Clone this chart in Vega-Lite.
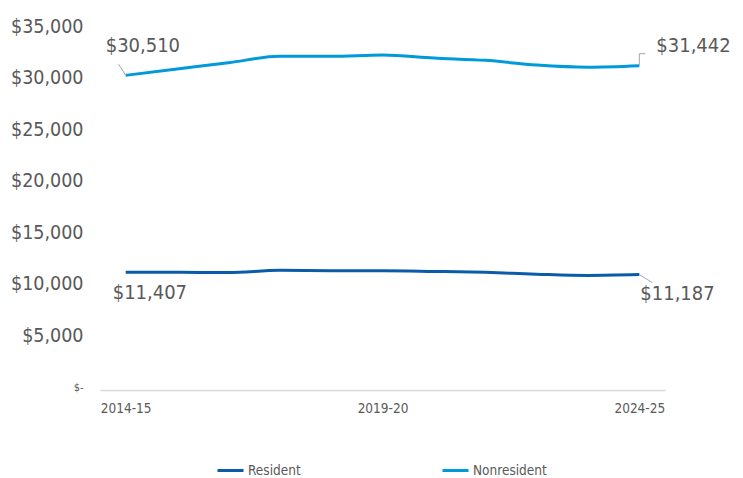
{
  "$schema": "https://vega.github.io/schema/vega-lite/v6.json",
  "width": 565,
  "height": 361,
  "autosize": "none",
  "padding": {"left": 100, "top": 29, "right": 78, "bottom": 88},
  "background": "white",
  "config": {
    "view": {"stroke": null},
    "font": "'DejaVu Sans Condensed', sans-serif",
    "axis": {"labelFont": "'DejaVu Sans Condensed', sans-serif", "labelColor": "#595959"},
    "legend": {"labelFont": "'DejaVu Sans Condensed', sans-serif", "labelColor": "#595959"}
  },
  "datasets": {
    "series": [
      {"year": "2014-15", "series": "Resident", "value": 11407},
      {"year": "2015-16", "series": "Resident", "value": 11420},
      {"year": "2016-17", "series": "Resident", "value": 11380},
      {"year": "2017-18", "series": "Resident", "value": 11600},
      {"year": "2018-19", "series": "Resident", "value": 11570},
      {"year": "2019-20", "series": "Resident", "value": 11570},
      {"year": "2020-21", "series": "Resident", "value": 11500},
      {"year": "2021-22", "series": "Resident", "value": 11407},
      {"year": "2022-23", "series": "Resident", "value": 11230},
      {"year": "2023-24", "series": "Resident", "value": 11110},
      {"year": "2024-25", "series": "Resident", "value": 11187},
      {"year": "2014-15", "series": "Nonresident", "value": 30510},
      {"year": "2015-16", "series": "Nonresident", "value": 31120},
      {"year": "2016-17", "series": "Nonresident", "value": 31730},
      {"year": "2017-18", "series": "Nonresident", "value": 32350},
      {"year": "2018-19", "series": "Nonresident", "value": 32350},
      {"year": "2019-20", "series": "Nonresident", "value": 32480},
      {"year": "2020-21", "series": "Nonresident", "value": 32190},
      {"year": "2021-22", "series": "Nonresident", "value": 31960},
      {"year": "2022-23", "series": "Nonresident", "value": 31510},
      {"year": "2023-24", "series": "Nonresident", "value": 31300},
      {"year": "2024-25", "series": "Nonresident", "value": 31442}
    ],
    "ann": [
      {"year": "2014-15", "value": 30510, "label": "$30,510", "id": "n0"},
      {"year": "2024-25", "value": 31442, "label": "$31,442", "id": "n1"},
      {"year": "2014-15", "value": 11407, "label": "$11,407", "id": "r0"},
      {"year": "2024-25", "value": 11187, "label": "$11,187", "id": "r1"}
    ]
  },
  "encoding": {
    "x": {
      "field": "year", "type": "ordinal",
      "scale": {"type": "point", "padding": 0.5},
      "axis": {
        "title": null, "values": ["2014-15", "2019-20", "2024-25"],
        "labelAngle": 0, "labelFontSize": 13.5, "ticks": false,
        "domainColor": "#d9d9d9", "domainWidth": 1.5, "labelPadding": 11,
        "grid": false
      }
    },
    "y": {
      "field": "value", "type": "quantitative",
      "scale": {"domain": [0, 35000], "nice": false},
      "axis": {
        "title": null, "values": [0, 5000, 10000, 15000, 20000, 25000, 30000, 35000],
        "labelExpr": "datum.value == 0 ? '$-' : '$' + format(datum.value, ',')",
        "labelFontSize": {"condition": {"test": "datum.value == 0", "value": 11}, "value": 19.5},
        "labelOffset": -3,
        "domain": false, "ticks": false, "grid": false, "labelPadding": 17
      }
    }
  },
  "layer": [
    {
      "data": {"name": "series"},
      "mark": {"type": "line", "strokeWidth": 3, "interpolate": "monotone"},
      "encoding": {
        "color": {
          "field": "series", "type": "nominal",
          "scale": {"domain": ["Resident", "Nonresident"], "range": ["#0b5ca8", "#0099d9"]},
          "legend": {
            "title": null, "orient": "none", "direction": "horizontal", "columns": 2,
            "legendX": 116, "legendY": 427, "symbolType": "stroke", "symbolSize": 676,
            "symbolStrokeWidth": 3, "labelFontSize": 13.5, "labelOffset": 3,
            "columnPadding": 135
          }
        }
      }
    },
    {
      "data": {"name": "ann"},
      "transform": [{"filter": "datum.id == 'n0'"}],
      "mark": {"type": "rule", "color": "#a6a6a6", "strokeWidth": 1, "x2Offset": -7, "y2Offset": -11},
      "encoding": {"x2": {"field": "year"}, "y2": {"field": "value"}}
    },
    {
      "data": {"name": "ann"},
      "transform": [{"filter": "datum.id == 'n1'"}],
      "mark": {"type": "rule", "color": "#a6a6a6", "strokeWidth": 1, "y2Offset": -12},
      "encoding": {"x2": {"field": "year"}, "y2": {"field": "value"}}
    },
    {
      "data": {"name": "ann"},
      "transform": [{"filter": "datum.id == 'n1'"}],
      "mark": {"type": "rule", "color": "#a6a6a6", "strokeWidth": 1, "yOffset": -12, "y2Offset": -12, "x2Offset": 6},
      "encoding": {"x2": {"field": "year"}, "y2": {"field": "value"}}
    },
    {
      "data": {"name": "ann"},
      "transform": [{"filter": "datum.id == 'r1'"}],
      "mark": {"type": "rule", "color": "#a6a6a6", "strokeWidth": 1, "x2Offset": 13, "y2Offset": 8},
      "encoding": {"x2": {"field": "year"}, "y2": {"field": "value"}}
    },
    {
      "data": {"name": "ann"},
      "transform": [{"filter": "datum.id == 'n0'"}],
      "mark": {"type": "text", "align": "left", "baseline": "middle", "dx": -20, "dy": -29, "fontSize": 20, "color": "#595959"},
      "encoding": {"text": {"field": "label"}}
    },
    {
      "data": {"name": "ann"},
      "transform": [{"filter": "datum.id == 'n1'"}],
      "mark": {"type": "text", "align": "left", "baseline": "middle", "dx": 17, "dy": -20, "fontSize": 20, "color": "#595959"},
      "encoding": {"text": {"field": "label"}}
    },
    {
      "data": {"name": "ann"},
      "transform": [{"filter": "datum.id == 'r0'"}],
      "mark": {"type": "text", "align": "left", "baseline": "middle", "dx": -13, "dy": 21, "fontSize": 20, "color": "#595959"},
      "encoding": {"text": {"field": "label"}}
    },
    {
      "data": {"name": "ann"},
      "transform": [{"filter": "datum.id == 'r1'"}],
      "mark": {"type": "text", "align": "left", "baseline": "middle", "dx": 1, "dy": 19, "fontSize": 20, "color": "#595959"},
      "encoding": {"text": {"field": "label"}}
    }
  ]
}
